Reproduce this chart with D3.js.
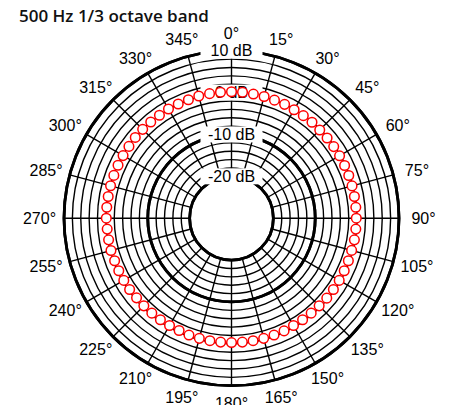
<!DOCTYPE html>
<html>
<head>
<meta charset="utf-8">
<script src="https://cdn.jsdelivr.net/npm/d3@7"></script>
<style>
body { margin: 0; background: #fff; }
svg { display: block; }
</style>
</head>
<body>
<div id="chart"></div>
<script>
var title = "500 Hz 1/3 octave band"
var angleTicks = d3.range(0, 360, 15)
var ringLevels = d3.range(-20, 11, 2)
var thickLevels = [-20, -10, 10]
var dbLabels = [10, 0, -10, -20]
// measured level (dB) every 5 degrees, starting at 0 and going clockwise
var pointAngles = d3.range(0, 360, 5)
var pointLevels = [
	0.2, 0.2, 0.1, 0.1, 0.0, 0.0, -0.1, -0.1, -0.1, -0.2, -0.2, -0.2,
	-0.2, -0.2, -0.2, -0.2, -0.2, -0.2, -0.2, -0.2, -0.2, -0.3, -0.3, -0.3,
	-0.3, -0.3, -0.3, -0.4, -0.4, -0.4, -0.4, -0.3, -0.3, -0.3, -0.3, -0.3,
	-0.3, -0.3, -0.3, -0.3, -0.3, -0.4, -0.4, -0.4, -0.4, -0.4, -0.4, -0.3,
	-0.3, -0.3, -0.3, -0.2, -0.2, -0.2, -0.1, -0.1, -0.1, -0.1, -0.1, -0.1,
	-0.1, -0.1, 0.0, 0.0, 0.0, 0.0, 0.1, 0.1, 0.1, 0.2, 0.2, 0.2
]

var width = 449, height = 405
var cx = 231.5, cy = 218.2, R = 167.5

var svg = d3.select("#chart").append("svg").attr("width", width).attr("height", height)
var r = d3.scaleLinear().domain([-30, 10]).range([0, R])
var rad = function(a) { return a * Math.PI / 180 }

svg.append("text").attr("x", 19).attr("y", 21.5)
	.style("font-family", "'Open Sans', sans-serif").style("font-size", "17px").style("font-weight", 600)
	.attr("fill", "#111").text(title)

var g = svg.append("g").attr("transform", "translate(" + cx + "," + cy + ")")

g.selectAll("circle.ring").data(ringLevels).enter().append("circle").attr("class", "ring")
	.attr("r", function(d) { return r(d) })
	.attr("fill", "none").attr("stroke", "#000")
	.attr("stroke-width", function(d) { return thickLevels.indexOf(d) >= 0 ? 2.8 : 1.4 })

g.selectAll("line.spoke").data(angleTicks).enter().append("line").attr("class", "spoke")
	.attr("x1", function(a) { return r(-20) * Math.sin(rad(a)) })
	.attr("y1", function(a) { return -r(-20) * Math.cos(rad(a)) })
	.attr("x2", function(a) { return r(10) * Math.sin(rad(a)) })
	.attr("y2", function(a) { return -r(10) * Math.cos(rad(a)) })
	.attr("stroke", "#000").attr("stroke-width", 1.4)

// redraw the heavy rings over the spokes
g.selectAll("circle.thick").data(thickLevels).enter().append("circle").attr("class", "thick")
	.attr("r", function(d) { return r(d) })
	.attr("fill", "none").attr("stroke", "#000").attr("stroke-width", 2.8)

var lab = g.selectAll("g.db").data(dbLabels).enter().append("g").attr("class", "db")
	.attr("transform", function(d) { return "translate(0," + (-r(d)) + ")" })
lab.append("rect").attr("x", -31).attr("y", -8).attr("width", 62).attr("height", 16).attr("fill", "#fff")
lab.append("text").attr("text-anchor", "middle").attr("dy", "0.36em")
	.style("font-family", "'Liberation Sans', Arial, sans-serif").style("font-size", "16px")
	.text(function(d) { return d + " dB" })

g.selectAll("text.ang").data(angleTicks).enter().append("text").attr("class", "ang")
	.attr("x", function(a) { return 192 * Math.sin(rad(a)) })
	.attr("y", function(a) { return -185 * Math.cos(rad(a)) })
	.attr("text-anchor", "middle").attr("dy", "0.36em")
	.style("font-family", "'Liberation Sans', Arial, sans-serif").style("font-size", "16px")
	.text(function(a) { return a + "°" })

g.selectAll("circle.pt").data(pointAngles).enter().append("circle").attr("class", "pt")
	.attr("cx", function(a, i) { return r(pointLevels[i]) * Math.sin(rad(a)) })
	.attr("cy", function(a, i) { return -r(pointLevels[i]) * Math.cos(rad(a)) })
	.attr("r", 4.8).attr("fill", "#fff").attr("stroke", "#ff0000").attr("stroke-width", 1.5)
</script>
</body>
</html>
